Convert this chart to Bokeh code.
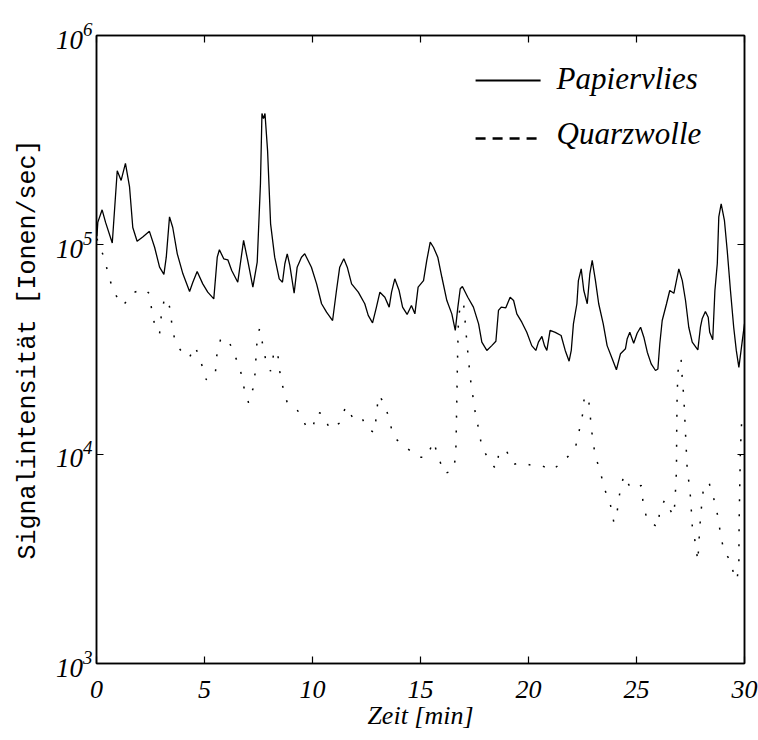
from bokeh.plotting import figure
from bokeh.models import (Range1d, FixedTicker, LinearAxis, LogAxis, Label, Arrow,
                          CustomJSTickFormatter, LogTickFormatter)
from bokeh.embed import file_html
from bokeh.resources import INLINE

# ---------------- data ----------------
papier_t = [
    0.02, 0.06, 0.26, 0.42, 0.73, 0.96, 1.14, 1.34, 1.53, 1.68,
    1.88, 2.14, 2.45, 2.69, 2.92, 3.12, 3.23, 3.38, 3.53, 3.74,
    4.00, 4.31, 4.46, 4.66, 4.92, 5.15, 5.43, 5.59, 5.69, 5.89,
    6.08, 6.26, 6.54, 6.81, 7.00, 7.24, 7.44, 7.59, 7.66, 7.73,
    7.80, 7.92, 8.06, 8.25, 8.46, 8.61, 8.72, 8.83, 8.95, 9.15,
    9.29, 9.49, 9.64, 9.95, 10.19, 10.42, 10.65, 10.93, 11.11, 11.26,
    11.45, 11.61, 11.81, 12.12, 12.42, 12.58, 12.78, 12.96, 13.12, 13.35,
    13.55, 13.66, 13.81, 14.01, 14.17, 14.38, 14.58, 14.74, 14.89, 15.14,
    15.29, 15.45, 15.60, 15.80, 15.99, 16.22, 16.45, 16.61, 16.73, 16.84,
    16.94, 17.19, 17.45, 17.69, 17.84, 18.07, 18.30, 18.49, 18.61, 18.74,
    18.95, 19.15, 19.31, 19.46, 19.69, 19.92, 20.15, 20.34, 20.46, 20.62,
    20.74, 20.85, 21.00, 21.24, 21.51, 21.70, 21.88, 21.98, 22.08, 22.24,
    22.31, 22.44, 22.56, 22.72, 22.84, 22.95, 23.10, 23.25, 23.46, 23.64,
    23.88, 24.07, 24.26, 24.49, 24.57, 24.69, 24.87, 25.03, 25.19, 25.34,
    25.50, 25.68, 25.88, 25.99, 26.08, 26.19, 26.39, 26.54, 26.73, 26.85,
    26.96, 27.12, 27.27, 27.42, 27.58, 27.84, 27.96, 28.04, 28.19, 28.32,
    28.39, 28.53, 28.63, 28.74, 28.81, 28.92, 29.07, 29.20, 29.35, 29.50,
    29.62, 29.74, 29.89, 30.00,
]
papier_signal = [
    110000, 128000, 147000, 128000, 102000, 226000, 203000, 245000, 189000, 121000,
    104000, 109000, 116000, 97400, 78200, 72200, 87300, 136000, 121000, 90600,
    72700, 59900, 66300, 74600, 65100, 59400, 55200, 87300, 94700, 85800,
    84800, 75400, 66300, 105000, 84200, 62800, 82600, 196000, 424000, 401000,
    424000, 282000, 126000, 87300, 68800, 66300, 81200, 90600, 79700, 58700,
    78200, 87300, 90600, 78200, 65100, 52300, 47700, 43500, 60500, 78200,
    85800, 78200, 65100, 59400, 52300, 46000, 42400, 50400, 59400, 56200,
    50400, 59400, 68800, 60500, 50400, 46500, 51300, 46800, 62800, 67500,
    84200, 103000, 97400, 87300, 70000, 54200, 46800, 39000, 50400, 61700,
    63200, 56200, 50400, 41900, 34300, 31300, 33000, 34600, 48600, 50400,
    50000, 56200, 54200, 46800, 42700, 38200, 33000, 31300, 34300, 36500,
    33000, 31300, 39000, 38200, 36900, 31300, 27800, 31300, 41900, 52300,
    67500, 76800, 60500, 52300, 72700, 84200, 67500, 52300, 41900, 33000,
    28500, 25300, 30200, 31900, 35600, 38200, 33900, 37800, 40400, 36200,
    30700, 27000, 25100, 25500, 33800, 43500, 52300, 60500, 58700, 67500,
    76800, 67500, 54200, 40400, 34300, 31500, 40400, 44300, 48000, 45100,
    38200, 35200, 60500, 81200, 136000, 157000, 131000, 94000, 60500, 40400,
    31300, 26000, 34300, 41900,
]

quarz_t = [
    0.02, 0.37, 0.56, 0.80, 1.22, 1.76, 2.22, 2.45, 2.56, 2.73,
    2.92, 3.00, 3.15, 3.38, 3.49, 3.64, 4.11, 4.31, 4.57, 4.85,
    5.08, 5.50, 5.56, 5.74, 6.08, 6.36, 6.65, 6.81, 7.04, 7.24,
    7.36, 7.39, 7.47, 7.55, 7.72, 7.87, 8.06, 8.21, 8.38, 8.46,
    8.61, 8.83, 9.29, 9.69, 10.00, 10.19, 10.46, 10.80, 11.26, 11.54,
    11.85, 12.22, 12.58, 12.88, 12.96, 13.06, 13.30, 13.55, 13.74, 14.32,
    14.89, 15.29, 15.60, 15.83, 16.11, 16.53, 16.63, 16.65, 16.68, 16.71,
    16.73, 16.76, 16.84, 16.99, 17.07, 17.14, 17.22, 17.30, 17.41, 17.53,
    17.69, 17.84, 18.23, 18.49, 18.64, 18.95, 19.31, 19.72, 20.13, 20.50,
    21.08, 21.62, 22.16, 22.35, 22.51, 22.59, 22.79, 22.87, 22.96, 23.09,
    23.33, 23.52, 23.80, 23.95, 24.11, 24.23, 24.41, 24.75, 25.00, 25.22,
    25.31, 25.50, 25.99, 26.08, 26.31, 26.70, 26.76, 26.81, 26.85, 26.86,
    26.88, 26.91, 26.96, 27.07, 27.12, 27.19, 27.27, 27.35, 27.47, 27.53,
    27.58, 27.73, 27.84, 27.93, 28.00, 28.09, 28.35, 28.58, 28.76, 28.89,
    29.04, 29.38, 29.54, 29.66, 29.74, 29.75, 29.78, 29.81, 29.85, 29.89,
]
quarz_signal = [
    107000, 85800, 71400, 59400, 51300, 59400, 61700, 58400, 48600, 39700,
    37600, 46000, 55800, 50700, 41900, 34300, 29100, 29100, 32700, 27200,
    22700, 24000, 29300, 35200, 35600, 30400, 25600, 21100, 17600, 20500,
    25100, 30700, 37600, 39700, 32400, 27000, 24900, 30400, 31300, 25600,
    21300, 17600, 16300, 13700, 13200, 15900, 15600, 13200, 14100, 16900,
    15000, 15300, 13100, 12700, 15600, 19100, 17700, 14800, 12100, 10800,
    9670, 9670, 11500, 9670, 8060, 8420, 9850, 12000, 18000, 27000,
    33700, 45100, 50400, 53200, 42700, 34800, 28500, 23300, 19400, 15900,
    13200, 10800, 9150, 8510, 10200, 10500, 8930, 9150, 8830, 8930,
    8360, 9260, 10600, 13000, 15600, 19100, 18000, 14800, 12000, 9850,
    8200, 6830, 5680, 4730, 5380, 6580, 7910, 6830, 6950, 7090,
    5790, 4820, 4480, 5420, 6050, 5090, 5580, 6830, 8360, 12500,
    18700, 23300, 28500, 28000, 22900, 18700, 12500, 8360, 6830, 5580,
    4560, 3730, 3080, 4480, 5480, 6710, 7350, 6120, 5090, 4160,
    3470, 3050, 2540, 2520, 3100, 4650, 6950, 10400, 13000, 15900,
]

x_ticks = [0, 5, 10, 15, 20, 25, 30]
y_ticks = [1e3, 1e4, 1e5, 1e6]
series_names = ["Papiervlies", "Quarzwolle"]
x_title = "Zeit [min]"
y_title = "Signalintensität [Ionen/sec]"

SERIF = "Liberation Serif"
MONO = "Liberation Mono"

# ---------------- figure ----------------
p = figure(width=758, height=740, output_backend="svg", toolbar_location=None,
           x_range=Range1d(0, 30), y_range=Range1d(1e3, 1e6), y_axis_type="log",
           min_border_left=96, min_border_right=14, min_border_top=35,
           min_border_bottom=77)
p.background_fill_color = "white"
p.border_fill_color = "white"
p.outline_line_color = "black"
p.outline_line_width = 1.5
p.grid.visible = False

def style_axis(ax, show_labels):
    ax.major_tick_in = 7
    ax.major_tick_out = 0
    ax.minor_tick_in = 0
    ax.minor_tick_out = 0
    ax.axis_line_color = "black"
    ax.axis_line_width = 1.5
    ax.major_tick_line_color = "black"
    ax.major_tick_line_width = 1.2
    if not show_labels:
        ax.formatter = CustomJSTickFormatter(code="return '';")
        ax.major_label_text_color = None
        ax.major_label_text_font_size = "8px"
        ax.major_label_standoff = 0

# bottom axis
p.xaxis.ticker = FixedTicker(ticks=x_ticks, minor_ticks=[])
style_axis(p.xaxis[0], True)
p.xaxis.major_label_text_font = SERIF
p.xaxis.major_label_text_font_style = "italic"
p.xaxis.major_label_text_font_size = "26px"
p.xaxis.major_label_text_color = "black"
p.xaxis.major_label_standoff = 17
p.xaxis.axis_label = x_title
p.xaxis.axis_label_text_font = SERIF
p.xaxis.axis_label_text_font_style = "italic"
p.xaxis.axis_label_text_font_size = "26px"
p.xaxis.axis_label_text_color = "black"
p.xaxis.axis_label_standoff = 0

# left axis
p.yaxis.ticker = FixedTicker(ticks=y_ticks, minor_ticks=[])
style_axis(p.yaxis[0], True)
p.yaxis.formatter = LogTickFormatter()
p.yaxis.major_label_text_font = SERIF
p.yaxis.major_label_text_font_style = "italic"
p.yaxis.major_label_text_font_size = "27px"
p.yaxis.major_label_text_color = "black"
p.yaxis.major_label_standoff = 4
p.yaxis.axis_label = y_title
p.yaxis.axis_label_text_font = MONO
p.yaxis.axis_label_text_font_style = "normal"
p.yaxis.axis_label_text_font_size = "25px"
p.yaxis.axis_label_text_color = "black"
p.yaxis.axis_label_standoff = 10

top = LinearAxis(ticker=FixedTicker(ticks=x_ticks, minor_ticks=[]))
style_axis(top, False)
p.add_layout(top, "above")
right = LogAxis(ticker=FixedTicker(ticks=y_ticks, minor_ticks=[]))
style_axis(right, False)
p.add_layout(right, "right")

# ---------------- data lines ----------------
p.line(papier_t, papier_signal, line_color="black", line_width=1.3)
p.line(quarz_t, quarz_signal, line_color="black", line_width=1.5, line_dash="2 13")

# ---------------- legend ----------------
p.add_layout(Arrow(x_start=17.55, y_start=6.1e5, x_end=20.56, y_end=6.1e5, end=None,
                   line_color="black", line_width=2))
p.add_layout(Arrow(x_start=17.55, y_start=3.22e5, x_end=20.56, y_end=3.22e5, end=None,
                   line_color="black", line_width=2.5, line_dash="10 7"))
for name, yy in zip(series_names, [6.23e5, 3.40e5]):
    p.add_layout(Label(x=21.3, y=yy, text=name, text_align="left", text_baseline="alphabetic",
                       text_font=SERIF, text_font_style="italic", text_font_size="31px",
                       text_color="black"))

open("out.html", "w").write(file_html(p, INLINE))
